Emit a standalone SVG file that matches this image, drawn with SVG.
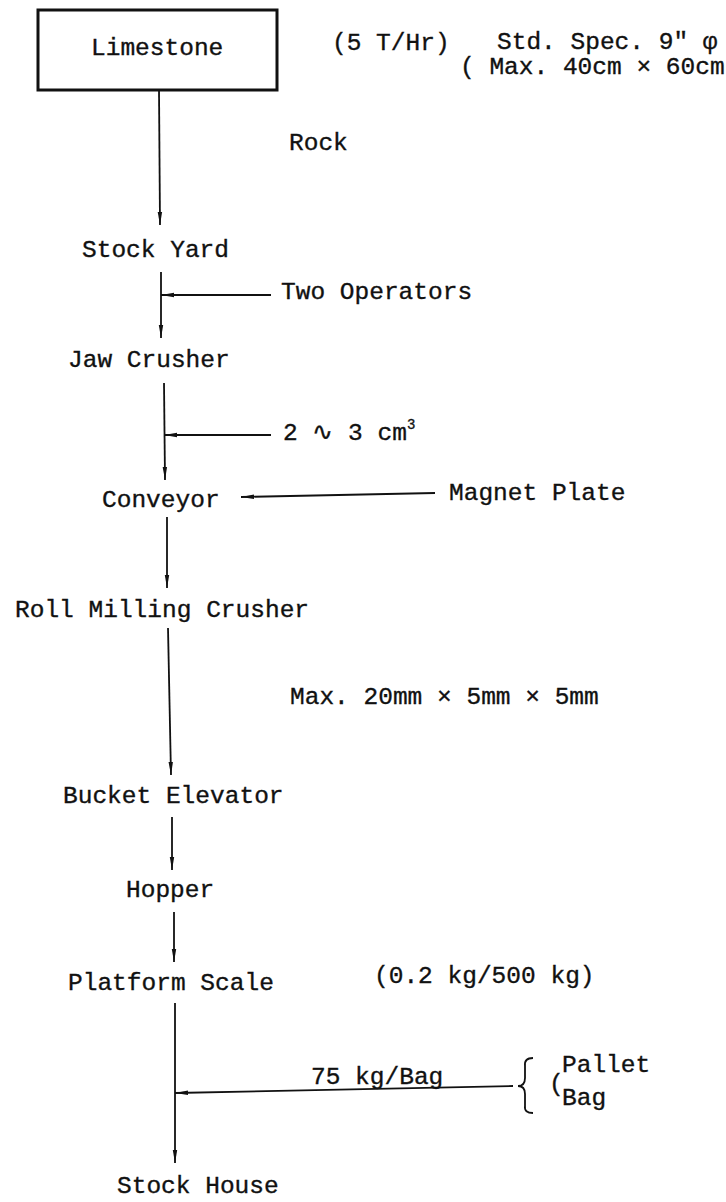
<svg xmlns="http://www.w3.org/2000/svg" width="726" height="1202" viewBox="0 0 726 1202">
<style>
text{font-family:"Liberation Mono","DejaVu Sans Mono",monospace;font-size:24.5px;fill:#111;stroke:#111;stroke-width:0.35}
.ln{stroke:#111;stroke-width:1.8;fill:none}
.box{stroke:#111;stroke-width:3;fill:#fff}
</style>
<defs>
<marker id="ah" markerUnits="userSpaceOnUse" markerWidth="14" markerHeight="8" refX="13" refY="3" orient="auto">
<path d="M0,0.8 L13,3 L0,5.2 z" fill="#111"/>
</marker>
</defs>
<rect width="726" height="1202" fill="#fff"/>
<g id="connectors">
<path class="ln" d="M159,90 L160,225" marker-end="url(#ah)"/>
<path class="ln" d="M161,272 L161,338" marker-end="url(#ah)"/>
<path class="ln" d="M271,295 L161,295" marker-end="url(#ah)"/>
<path class="ln" d="M164,383 L165,480" marker-end="url(#ah)"/>
<path class="ln" d="M271,435 L164,435" marker-end="url(#ah)"/>
<path class="ln" d="M435,493 L241,497" marker-end="url(#ah)"/>
<path class="ln" d="M167,517 L167,588" marker-end="url(#ah)"/>
<path class="ln" d="M168,628 L171,775" marker-end="url(#ah)"/>
<path class="ln" d="M172,817 L172,870" marker-end="url(#ah)"/>
<path class="ln" d="M174,912 L174,962" marker-end="url(#ah)"/>
<path class="ln" d="M175,1003 L175,1163" marker-end="url(#ah)"/>
<path class="ln" d="M513,1086 L175,1093" marker-end="url(#ah)"/>
<path class="ln" d="M533,1058 Q524,1058 525,1066 L525,1078 Q525,1086 518,1086 Q525,1086 525,1094 L525,1106 Q524,1113 533,1113"/>
</g>
<g id="limestone">
<rect class="box" x="38" y="10" width="239" height="80"/>
<text x="91" y="55">Limestone</text>
</g>
<g id="limestone-notes">
<text x="332" y="50">(5 T/Hr)</text>
<text x="497" y="49">Std. Spec. 9" φ</text>
<text x="460" y="74">( Max. 40cm × 60cm</text>
</g>
<g id="rock"><text x="289" y="150">Rock</text></g>
<g id="stock-yard"><text x="82" y="257">Stock Yard</text></g>
<g id="two-operators"><text x="281" y="299">Two Operators</text></g>
<g id="jaw-crusher"><text x="68" y="367">Jaw Crusher</text></g>
<g id="size-2-3"><text x="283" y="440">2 ∿ 3 cm<tspan font-size="14" dy="-11">3</tspan></text></g>
<g id="conveyor"><text x="102" y="507">Conveyor</text></g>
<g id="magnet-plate"><text x="449" y="500">Magnet Plate</text></g>
<g id="roll-milling-crusher"><text x="15" y="617">Roll Milling Crusher</text></g>
<g id="max-size"><text x="290" y="704">Max. 20mm × 5mm × 5mm</text></g>
<g id="bucket-elevator"><text x="63" y="803">Bucket Elevator</text></g>
<g id="hopper"><text x="126" y="897">Hopper</text></g>
<g id="platform-scale"><text x="68" y="990">Platform Scale</text></g>
<g id="accuracy"><text x="374" y="983">(0.2 kg/500 kg)</text></g>
<g id="bag-weight"><text x="311" y="1084">75 kg/Bag</text></g>
<g id="packing">
<text x="549" y="1091" font-size="22">(</text>
<text x="562" y="1072">Pallet</text>
<text x="562" y="1105">Bag</text>
</g>
<g id="stock-house"><text x="117" y="1193">Stock House</text></g>
</svg>
